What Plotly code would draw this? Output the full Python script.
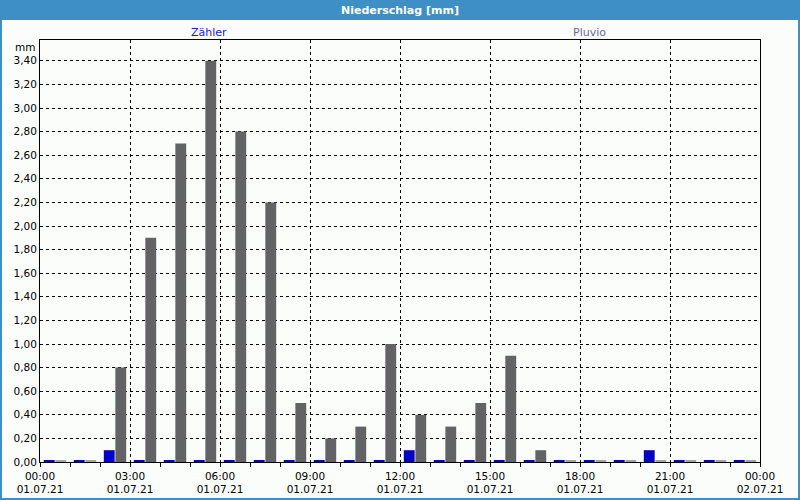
import numpy as np
import pandas as pd
import plotly.graph_objects as go

# ---- data ----
hour_labels = [f"{h:02d}:00" for h in range(24)]
zaehler = [0, 0, 0.10, 0, 0, 0, 0, 0, 0, 0, 0, 0, 0.10, 0, 0, 0, 0, 0, 0, 0, 0.10, 0, 0, 0]
pluvio = [0, 0, 0.80, 1.90, 2.70, 3.40, 2.80, 2.20, 0.50, 0.20, 0.30, 1.00, 0.40, 0.30, 0.50, 0.90, 0.10, 0, 0, 0, 0, 0, 0, 0]
tick_times = ["00:00", "03:00", "06:00", "09:00", "12:00", "15:00", "18:00", "21:00", "00:00"]
tick_dates = ["01.07.21"] * 8 + ["02.07.21"]
y_ticks = [round(0.2 * i, 2) for i in range(18)]

# ---- layout constants ----
W, H = 800, 500
ML, MR, MT, MB = 40, 40, 40, 38
PW, PH = W - ML - MR, H - MT - MB
BLUE_BAR = "#0000c4"
GRAY_BAR = "#636366"
STUB_GRAY = "#a4a4a4"
FRAME_BLUE = "#3d8fc6"
BG = "#fbfdfb"
FONT = "DejaVu Sans"

day = pd.Timestamp("2021-07-01")
x = [day + pd.Timedelta(hours=int(h[:2])) + pd.Timedelta(minutes=30) for h in hour_labels]

STUB = 0.010
z = np.array(zaehler, dtype=float)
p = np.array(pluvio, dtype=float)
z_disp = np.where(z > 0, z, STUB)
p_disp = np.where(p > 0, p, STUB * 1.7)
p_colors = [GRAY_BAR if v > 0 else STUB_GRAY for v in p]

fig = go.Figure()
fig.add_trace(go.Bar(x=x, y=z_disp, name="Zähler", marker=dict(color=BLUE_BAR, line=dict(width=0))))
fig.add_trace(go.Bar(x=x, y=p_disp, name="Pluvio", marker=dict(color=p_colors, line=dict(width=0))))

def px2x(px):
    return (px - ML) / PW

def py2y(py):
    return 1 - (py - MT) / PH

shapes = [
    dict(type="rect", xref="paper", yref="paper", x0=px2x(0), x1=px2x(W), y0=py2y(20), y1=py2y(0),
         fillcolor=FRAME_BLUE, line=dict(width=0), layer="below"),
    dict(type="rect", xref="paper", yref="paper", x0=px2x(0), x1=px2x(2), y0=py2y(H), y1=py2y(0),
         fillcolor=FRAME_BLUE, line=dict(width=0), layer="below"),
    dict(type="rect", xref="paper", yref="paper", x0=px2x(W - 2), x1=px2x(W), y0=py2y(H), y1=py2y(0),
         fillcolor=FRAME_BLUE, line=dict(width=0), layer="below"),
    dict(type="rect", xref="paper", yref="paper", x0=px2x(0), x1=px2x(W), y0=py2y(H), y1=py2y(H - 2),
         fillcolor=FRAME_BLUE, line=dict(width=0), layer="below"),
]

annotations = [
    dict(text="<b>Niederschlag [mm]</b>", xref="paper", yref="paper", x=px2x(400), y=py2y(10),
         showarrow=False, font=dict(family=FONT, size=11, color="white"), xanchor="center", yanchor="middle"),
    dict(text="Zähler", xref="paper", yref="paper", x=px2x(209), y=py2y(32),
         showarrow=False, font=dict(family=FONT, size=11, color="#1a1ad0"), xanchor="center", yanchor="middle"),
    dict(text="Pluvio", xref="paper", yref="paper", x=px2x(589), y=py2y(32),
         showarrow=False, font=dict(family=FONT, size=11, color="#6a6a9a"), xanchor="center", yanchor="middle"),
    dict(text="mm", xref="paper", yref="paper", x=px2x(37), y=py2y(47),
         showarrow=False, font=dict(family=FONT, size=10.5, color="black"), xanchor="right", yanchor="middle"),
]

tickvals = [day + pd.Timedelta(hours=3 * i) for i in range(9)]
ticktext = [f"{t}<br>{d}" for t, d in zip(tick_times, tick_dates)]

fig.update_layout(
    width=W, height=H,
    margin=dict(l=ML, r=MR, t=MT, b=MB, autoexpand=False),
    paper_bgcolor=BG, plot_bgcolor=BG,
    barmode="group", bargap=0.23, bargroupgap=0.06,
    showlegend=False,
    separators=",.",
    font=dict(family=FONT, size=10.5, color="black"),
    shapes=shapes, annotations=annotations,
    xaxis=dict(
        type="date", range=[day, day + pd.Timedelta(hours=24)],
        tickmode="array", tickvals=tickvals, ticktext=ticktext, automargin=False,
        showgrid=True, gridcolor="black", griddash="3px,3px", gridwidth=1,
        showline=True, linecolor="black", linewidth=1, mirror=True,
        ticks="outside", ticklen=4, tickcolor="black",
        minor=dict(dtick=3600000, ticks="outside", ticklen=4, tickcolor="black", showgrid=False),
        zeroline=False, tickfont=dict(family=FONT, size=10.5),
    ),
    yaxis=dict(
        range=[0, PH / 118.0], tickmode="array", tickvals=y_ticks, tickformat=".2f", automargin=False,
        showgrid=True, gridcolor="black", griddash="3px,3px", gridwidth=1,
        showline=True, linecolor="black", linewidth=1, mirror=True,
        ticks="", zeroline=False, tickfont=dict(family=FONT, size=10.5),
    ),
)

fig.write_html("out.html")
